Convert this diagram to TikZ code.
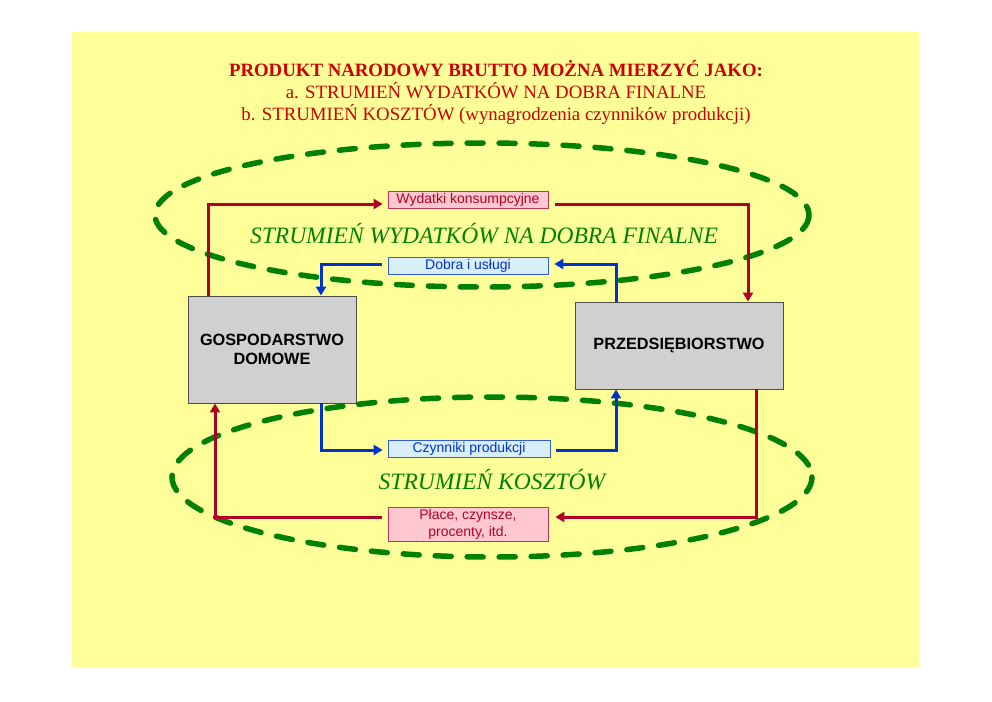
\documentclass[tikz,border=0pt]{standalone}
\usepackage{fontspec}
\setmainfont{Liberation Serif}
\setsansfont{Liberation Sans}
\usetikzlibrary{arrows.meta}
\definecolor{bgyellow}{RGB}{255,255,153}
\definecolor{titlered}{RGB}{204,0,0}
\definecolor{ovalgreen}{RGB}{0,128,0}
\definecolor{flowred}{RGB}{176,0,40}
\definecolor{flowblue}{RGB}{0,51,204}
\definecolor{boxgray}{RGB}{208,208,208}
\definecolor{pinkfill}{RGB}{255,200,208}
\definecolor{bluefill}{RGB}{216,238,248}
\tikzset{
  oval/.style={draw=ovalgreen, line width=5.5pt, line cap=round, dash pattern=on 16pt off 16pt},
  agent/.style={draw=black!70, fill=boxgray, line width=0.9pt, font=\sffamily\bfseries\fontsize{16.3}{19}\selectfont, align=center, inner sep=0pt},
  redlabel/.style={draw=flowred!80, fill=pinkfill, line width=0.7pt, text=flowred, font=\sffamily\fontsize{14}{17}\selectfont, align=center, inner sep=0pt, minimum width=160pt},
  bluelabel/.style={draw=flowblue!80, fill=bluefill, line width=0.7pt, text=flowblue, font=\sffamily\fontsize{14}{17}\selectfont, align=center, inner sep=0pt, minimum width=160pt, minimum height=17pt},
  redflow/.style={draw=flowred, line width=3pt, -{Triangle[length=9pt,width=10pt]}},
  blueflow/.style={draw=flowblue, line width=3pt, -{Triangle[length=9pt,width=10pt]}},
  ovaltext/.style={text=ovalgreen, font=\itshape\fontsize{23.5}{27}\selectfont}
}
\begin{document}
\begin{tikzpicture}[x=1pt,y=-1pt]
\useasboundingbox (0,0) rectangle (992,701);
\fill[bgyellow] (72,32) rectangle (919,667);

\node[text=titlered, font=\fontsize{18.8}{22}\selectfont, align=center, anchor=north] (title) at (496,57)
 {\textbf{PRODUKT NARODOWY BRUTTO MOŻNA MIERZYĆ JAKO:}\\
  a. STRUMIEŃ WYDATKÓW NA DOBRA FINALNE\\
  b. STRUMIEŃ KOSZTÓW (wynagrodzenia czynników produkcji)};

% ovals
\draw[oval] (482,215) ellipse [x radius=327, y radius=72];
\draw[oval] (492,477) ellipse [x radius=320, y radius=80];

\node[ovaltext] (t1) at (484,234) {STRUMIEŃ WYDATKÓW NA DOBRA FINALNE};
\node[ovaltext] (t2) at (492,480) {STRUMIEŃ KOSZTÓW};

% agents
\node[agent, minimum width=168pt, minimum height=107pt] (gd) at (272,349.5) {GOSPODARSTWO\\DOMOWE};
\node[agent, minimum width=208pt, minimum height=87pt] (prz) at (679,345.5) {PRZEDSIĘBIORSTWO};

% labels
\node[redlabel, minimum height=17pt] (wk) at (468,199.5) {Wydatki konsumpcyjne};
\node[bluelabel] (du) at (468,265.5) {Dobra i usługi};
\node[bluelabel, minimum width=162pt] (cp) at (469,448.5) {Czynniki produkcji};
\node[redlabel, minimum height=34pt] (pc) at (468,524) {Płace, czynsze,\\procenty, itd.};

\coordinate (a1) at (208,204);
\coordinate (a2) at (748,204);
\coordinate (b1) at (616,264);
\coordinate (b2) at (321,264);
\coordinate (c1) at (321,450);
\coordinate (c2) at (616,450);
\coordinate (d1) at (756,517);
\coordinate (d2) at (215,517);

% top flows
\draw[redflow, shorten >=5pt] (gd.north -| a1) |- (wk.west |- a1);
\draw[redflow] ([xshift=7pt]wk.east |- a2) -| (prz.north -| a2);
\draw[blueflow, shorten >=6pt] (prz.north -| b1) |- (du.east |- b1);
\draw[blueflow] ([xshift=-6pt]du.west |- b2) -| (gd.north -| b2);

% bottom flows
\draw[blueflow, shorten >=5pt] (gd.south -| c1) |- (cp.west |- c1);
\draw[blueflow] ([xshift=6pt]cp.east |- c2) -| (prz.south -| c2);
\draw[redflow, shorten >=7pt] (prz.south -| d1) |- (pc.east |- d1);
\draw[redflow] ([xshift=-6pt]pc.west |- d2) -| (gd.south -| d2);
\end{tikzpicture}
\end{document}
